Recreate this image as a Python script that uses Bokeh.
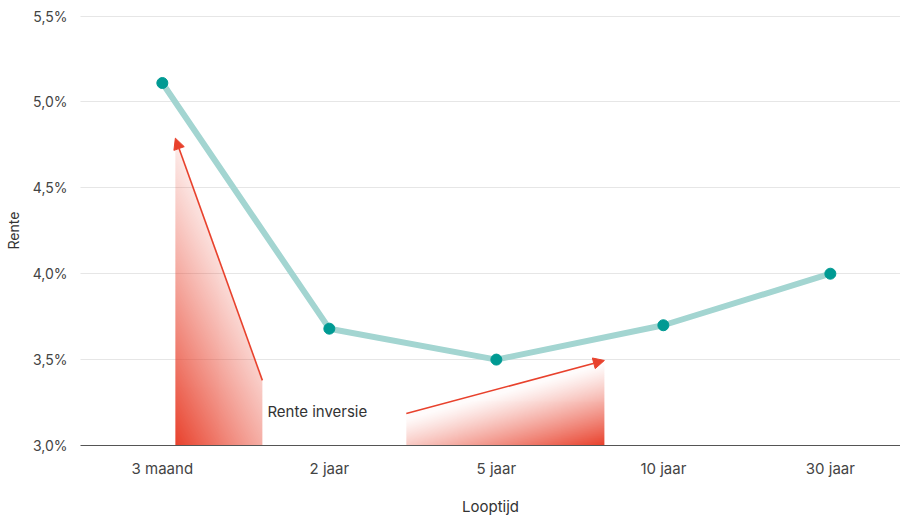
import numpy as np
from bokeh.plotting import figure
from bokeh.models import FixedTicker, Arrow, NormalHead, Range1d
from bokeh.core.properties import value
from bokeh.embed import file_html
from bokeh.resources import INLINE

# ---- data ----
categories = ["3 maand", "2 jaar", "5 jaar", "10 jaar", "30 jaar"]
rente = [5.11, 3.68, 3.50, 3.70, 4.00]
y_ticks = [3.0, 3.5, 4.0, 4.5, 5.0, 5.5]
y_tick_labels = ["3,0%", "3,5%", "4,0%", "4,5%", "5,0%", "5,5%"]

# annotation arrows (x in category index units, y in %)
arrow1_start = [0.599, 3.379]
arrow1_end = [0.078, 4.789]
arrow2_start = [1.461, 3.186]
arrow2_end = [2.647, 3.495]
note_text = "Rente inversie"
note_pos = [0.629, 3.198]

FONT = "Inter"
RED = (232, 65, 44)

xs = list(range(len(categories)))

p = figure(width=900, height=518, output_backend="svg", toolbar_location=None,
           x_range=Range1d(-0.49, 4.42), y_range=Range1d(3.0, 5.503),
           min_border_left=80, min_border_right=0, min_border_top=15, min_border_bottom=60)
p.outline_line_color = None
p.background_fill_color = "white"
p.border_fill_color = "white"


def gradient_image(xa, ya, xb, yb, y_base, nx, ny, mode):
    x0, x1 = min(xa, xb), max(xa, xb)
    y1 = max(ya, yb)
    gx = np.linspace(x0, x1, nx)
    gy = np.linspace(y_base, y1, ny)
    X, Y = np.meshgrid(gx, gy)
    top = ya + (yb - ya) * (X - xa) / (xb - xa)
    inside = Y <= top
    u = (X - x0) / (x1 - x0)
    v = (Y - y_base) / (y1 - y_base)
    if mode == "left":
        a = 1.0 - 0.5 * u - 0.85 * v
    else:
        a = 1.0 - 0.65 * (1 - u) - 1.0 * v
    a = np.clip(a, 0.04, 1.0) ** 1.2 * inside
    img = np.empty((ny, nx), dtype=np.uint32)
    view = img.view(dtype=np.uint8).reshape((ny, nx, 4))
    view[:, :, 0] = RED[0]
    view[:, :, 1] = RED[1]
    view[:, :, 2] = RED[2]
    view[:, :, 3] = (a * 255).astype(np.uint8)
    return img, x0, y_base, x1 - x0, y1 - y_base


for (s, e, mode, nx, ny) in [(arrow1_end, arrow1_start, "left", 88, 310),
                              (arrow2_start, arrow2_end, "right", 200, 86)]:
    img, x0, y0, dw, dh = gradient_image(s[0], s[1], e[0], e[1], y_ticks[0], nx, ny, mode)
    p.image_rgba(image=[img], x=x0, y=y0, dw=dw, dh=dh)

for s, e in [(arrow1_start, arrow1_end), (arrow2_start, arrow2_end)]:
    p.add_layout(Arrow(x_start=s[0], y_start=s[1], x_end=e[0], y_end=e[1],
                       line_color="#E8412C", line_width=1.6,
                       end=NormalHead(size=11, fill_color="#E8412C", line_color="#E8412C", line_width=1)))

p.text(x=[note_pos[0]], y=[note_pos[1]], text=[note_text], text_font=value(FONT),
       text_font_size="15px", text_color="#333333", text_baseline="middle", text_align="left")

p.line(xs, rente, line_color="#A3D5D1", line_width=6)
p.scatter(xs, rente, size=11, fill_color="#009A93", line_color="#009A93")

# axes
p.xaxis.ticker = FixedTicker(ticks=xs)
p.xaxis.major_label_overrides = {i: c for i, c in enumerate(categories)}
p.xaxis.axis_line_color = "#555555"
p.xaxis.axis_line_width = 1
p.xaxis.major_tick_line_color = None
p.xaxis.minor_tick_line_color = None
p.xaxis.major_label_standoff = 7
p.xaxis.major_label_text_font = FONT
p.xaxis.major_label_text_font_size = "15px"
p.xaxis.major_label_text_color = "#444444"
p.xaxis.axis_label = "Looptijd"
p.xaxis.axis_label_text_font = FONT
p.xaxis.axis_label_text_font_size = "15px"
p.xaxis.axis_label_text_font_style = "normal"
p.xaxis.axis_label_text_color = "#333333"
p.xaxis.axis_label_standoff = 16

p.yaxis.ticker = FixedTicker(ticks=y_ticks)
p.yaxis.major_label_overrides = {t: l for t, l in zip(y_ticks, y_tick_labels)}
p.yaxis.axis_line_color = None
p.yaxis.major_tick_line_color = None
p.yaxis.minor_tick_line_color = None
p.yaxis.major_label_standoff = 7
p.yaxis.major_label_text_font = FONT
p.yaxis.major_label_text_font_size = "14px"
p.yaxis.major_label_text_color = "#444444"
p.yaxis.axis_label = "Rente"
p.yaxis.axis_label_text_font = FONT
p.yaxis.axis_label_text_font_size = "14px"
p.yaxis.axis_label_text_font_style = "normal"
p.yaxis.axis_label_text_color = "#333333"
p.yaxis.axis_label_standoff = 8

p.xgrid.grid_line_color = None
p.ygrid.ticker = FixedTicker(ticks=y_ticks)
p.ygrid.grid_line_color = "#cccccc"
p.ygrid.grid_line_dash = "1 1"
p.ygrid.grid_line_width = 1

open("out.html", "w").write(file_html(p, INLINE))
